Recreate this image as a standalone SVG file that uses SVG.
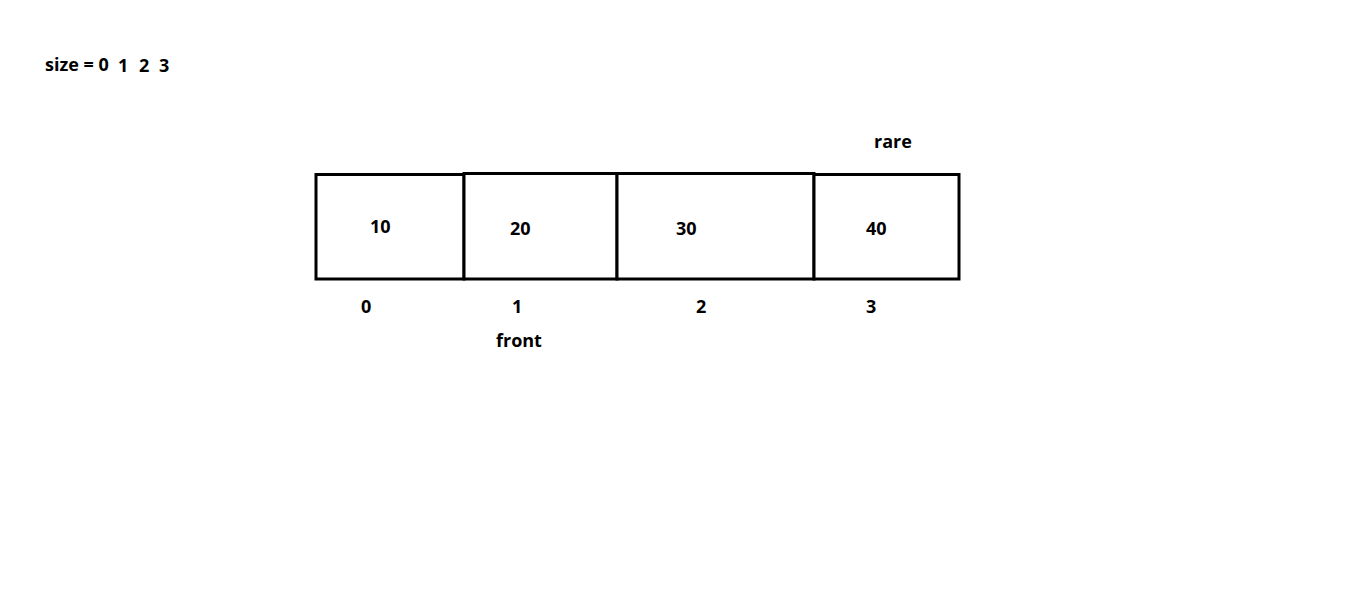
<svg xmlns="http://www.w3.org/2000/svg" width="1360" height="613" viewBox="0 0 1360 613">
<style>
text{font-family:"Open Sans","Noto Sans","Liberation Sans",sans-serif;font-weight:bold;font-size:18px;fill:#000}
.cell{fill:#fff;stroke:#000;stroke-width:3}
</style>
<rect width="1360" height="613" fill="#fff"/>
<g id="size-label">
<text x="45" y="71">size = 0</text>
<text x="118" y="72">1</text>
<text x="139" y="72">2</text>
<text x="159" y="72">3</text>
</g>
<g id="cell0"><rect class="cell" x="316" y="174.5" width="148" height="104.5"/><text x="370" y="233">10</text></g>
<g id="cell1"><rect class="cell" x="464" y="173.5" width="153" height="105.5"/><text x="510" y="235">20</text></g>
<g id="cell2"><rect class="cell" x="617" y="173.5" width="197" height="105.5"/><text x="676" y="235">30</text></g>
<g id="cell3"><rect class="cell" x="814" y="174.5" width="145" height="104.5"/><text x="866" y="235">40</text></g>
<g id="indices">
<text x="361" y="313">0</text>
<text x="512" y="313">1</text>
<text x="696" y="313">2</text>
<text x="866" y="313">3</text>
</g>
<g id="front"><text x="496" y="347">front</text></g>
<g id="rare"><text x="874" y="148">rare</text></g>
<g id="connectors"></g>
</svg>
